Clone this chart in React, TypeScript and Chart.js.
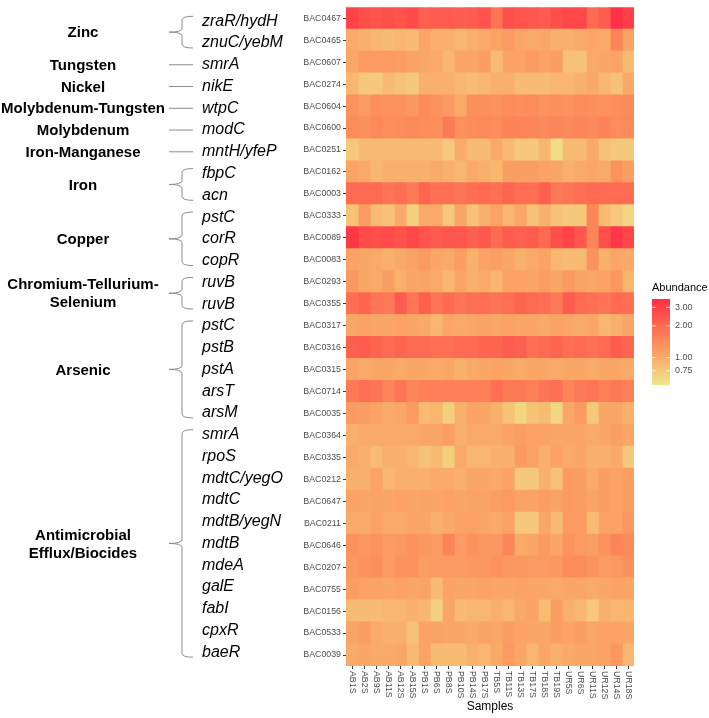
import React, { useEffect, useRef } from "react";
import { Chart, registerables } from "chart.js";
Chart.register(...registerables);

const samples = ["AB1S","AB2S","AB9S","AB11S","AB12S","AB15S","PB1S","PB6S","PB8S","PB10S","PB14S","PB17S","TB5S","TB11S","TB13S","TB17S","TB18S","TB19S","UR5S","UR6S","UR11S","UR12S","UR14S","UR18S"];

const bacIds = ["BAC0467","BAC0465","BAC0607","BAC0274","BAC0604","BAC0600","BAC0251","BAC0162","BAC0003","BAC0333","BAC0089","BAC0083","BAC0293","BAC0355","BAC0317","BAC0316","BAC0315","BAC0714","BAC0035","BAC0364","BAC0335","BAC0212","BAC0647","BAC0211","BAC0646","BAC0207","BAC0755","BAC0156","BAC0533","BAC0039"];

const genes = ["zraR/hydH","znuC/yebM","smrA","nikE","wtpC","modC","mntH/yfeP","fbpC","acn","pstC","corR","copR","ruvB","ruvB","pstC","pstB","pstA","arsT","arsM","smrA","rpoS","mdtC/yegO","mdtC","mdtB/yegN","mdtB","mdeA","galE","fabI","cpxR","baeR"];

const groupLabels = [["Zinc"],["Tungsten"],["Nickel"],["Molybdenum-Tungsten"],["Molybdenum"],["Iron-Manganese"],["Iron"],["Copper"],["Chromium-Tellurium-","Selenium"],["Arsenic"],["Antimicrobial","Efflux/Biocides"]];
const groupFirstRow = [0,2,3,4,5,6,7,9,12,14,19];
const groupLastRow = [1,2,3,4,5,6,8,11,13,18,29];

// abundance[row][sample]
const abundance = [
  [2.9,2.6,2.5,2.6,2.5,2.7,2.2,2.3,2.3,2.2,2.3,2.5,1.8,2.6,2.5,2.4,2.3,2.6,2.8,2.8,2.0,2.3,3.4,3.0],
  [1.0,0.95,0.9,0.85,0.9,0.85,1.05,0.95,0.95,0.9,0.95,1.0,1.1,1.2,1.05,1.0,1.05,0.95,0.95,1.0,1.05,1.0,1.5,1.1],
  [1.05,1.2,1.2,1.2,1.15,1.1,1.05,1.0,0.9,1.05,1.05,1.15,0.85,1.1,1.1,1.2,1.1,1.15,0.8,0.8,1.0,1.05,1.1,0.85],
  [0.9,0.75,0.75,0.85,0.8,0.75,0.95,0.95,0.95,0.9,0.85,0.9,0.95,0.95,0.85,0.85,0.85,0.9,0.9,0.95,1.0,0.9,0.8,1.0],
  [1.3,1.2,1.35,1.3,1.3,1.25,1.4,1.3,1.2,1.0,1.35,1.35,1.3,1.4,1.35,1.4,1.3,1.35,1.3,1.4,1.35,1.3,1.35,1.4],
  [1.4,1.35,1.45,1.35,1.4,1.45,1.4,1.35,1.7,1.35,1.4,1.45,1.4,1.55,1.55,1.5,1.45,1.5,1.45,1.5,1.45,1.55,1.4,1.45],
  [0.75,0.85,0.85,0.85,0.85,0.85,0.85,0.85,0.75,1.0,0.85,0.85,1.0,0.85,0.75,0.75,0.9,0.6,0.85,0.85,1.0,0.8,0.75,0.75],
  [1.1,1.0,0.9,0.95,0.95,0.95,0.95,1.0,0.95,0.9,1.0,0.95,0.9,1.15,1.15,1.15,1.1,1.05,0.95,1.0,1.05,1.0,1.3,1.15],
  [2.0,2.0,2.0,1.8,1.9,1.7,2.1,1.9,1.9,1.8,1.9,2.0,1.9,2.1,1.9,1.9,2.2,1.7,1.8,1.9,2.0,2.0,2.0,2.0],
  [0.8,1.2,0.85,0.8,1.0,0.7,1.0,1.0,0.75,1.05,0.8,0.95,1.1,0.9,1.05,0.8,0.95,0.8,0.75,0.75,1.5,0.85,0.75,0.65],
  [3.2,2.7,2.6,2.7,2.5,2.8,2.5,2.3,2.4,2.4,2.2,2.4,2.0,2.3,2.2,2.3,2.0,2.6,2.9,2.4,1.5,2.6,3.2,2.8],
  [1.1,1.05,1.0,0.95,1.0,1.1,1.2,1.05,1.0,1.15,0.95,1.1,1.15,1.05,0.95,1.0,1.1,0.9,0.85,0.85,1.3,0.95,1.05,1.0],
  [1.25,1.05,1.0,1.15,0.95,1.05,1.1,1.0,0.9,1.05,0.95,1.0,0.9,1.1,1.1,1.05,1.15,1.05,1.2,1.1,1.05,1.1,1.25,0.9],
  [1.9,2.1,1.8,1.7,2.3,1.8,2.2,1.8,2.0,1.8,1.9,1.9,1.8,1.9,2.1,2.0,1.9,1.7,2.3,2.0,1.9,1.8,2.0,1.9],
  [1.05,1.1,1.05,1.05,1.1,1.05,1.0,0.9,1.05,1.0,1.05,1.1,1.05,1.1,1.05,1.05,1.0,1.1,1.05,1.0,1.05,0.9,0.95,1.05],
  [2.2,2.3,2.1,2.0,2.1,2.0,2.0,1.9,1.9,2.0,2.0,2.1,2.1,2.3,2.2,1.9,2.0,2.1,1.9,2.0,1.9,2.0,2.3,2.1],
  [1.1,1.0,1.05,1.05,1.0,1.05,1.05,1.0,1.05,0.95,1.0,1.05,1.1,1.05,1.0,1.05,1.05,1.0,1.05,1.05,1.0,1.05,1.05,1.0],
  [1.7,1.9,1.8,1.5,1.8,1.5,1.6,1.6,1.6,1.6,1.6,1.6,1.9,1.7,1.7,1.6,1.8,1.9,1.5,1.7,1.8,1.6,1.7,1.6],
  [1.2,1.15,1.1,1.0,1.05,1.2,0.85,0.9,0.7,0.95,1.1,1.05,0.95,0.8,0.65,0.8,0.85,0.65,1.05,1.2,0.75,1.05,1.05,0.95],
  [0.95,1.0,1.0,1.0,1.0,1.0,1.05,1.05,1.15,0.95,1.0,1.0,1.0,1.1,1.15,1.1,1.1,1.05,1.05,1.05,1.0,1.05,1.15,1.05],
  [1.0,0.95,0.85,0.95,0.95,0.9,0.8,0.85,0.7,1.0,0.9,0.9,0.95,0.95,1.2,1.1,0.95,1.1,1.0,1.05,0.95,0.95,1.0,0.75],
  [0.95,0.95,1.1,0.9,0.95,0.95,0.95,1.0,1.0,0.95,1.05,1.05,1.0,1.1,0.75,0.75,0.95,0.8,1.2,1.15,1.0,1.15,1.1,1.15],
  [1.1,1.05,1.1,1.05,1.1,1.05,1.1,1.05,1.1,1.05,1.1,1.1,1.15,1.2,1.1,1.1,1.15,1.1,1.2,1.15,1.1,1.15,1.1,1.15],
  [1.0,1.0,1.1,1.0,1.0,1.05,1.05,0.95,1.0,1.1,1.1,1.05,1.0,1.1,0.75,0.75,1.05,0.85,1.2,1.2,0.85,1.1,1.1,1.25],
  [1.3,1.25,1.3,1.2,1.25,1.3,1.25,1.2,1.55,1.2,1.3,1.25,1.25,1.5,1.0,1.05,1.2,1.05,1.3,1.2,1.15,1.3,1.5,1.45],
  [1.25,1.3,1.35,1.2,1.3,1.3,1.15,1.2,1.2,1.2,1.25,1.25,1.3,1.25,1.25,1.2,1.2,1.25,1.4,1.4,1.3,1.2,1.25,1.35],
  [1.15,1.1,1.1,1.05,1.1,1.05,1.1,0.85,1.1,1.05,1.05,1.1,1.05,1.05,1.1,1.05,1.05,1.0,1.05,1.05,1.0,1.05,1.1,1.05],
  [0.85,0.85,0.85,0.9,0.9,0.95,0.9,0.7,1.05,0.85,0.9,0.9,0.95,0.9,1.0,1.1,0.85,1.15,0.95,0.9,0.75,0.95,0.9,0.9],
  [1.1,1.15,1.0,0.95,0.95,0.8,1.1,1.1,1.05,1.05,1.0,1.1,1.05,1.15,1.1,1.05,1.05,1.15,1.1,1.15,1.05,1.1,1.1,1.05],
  [1.0,1.05,1.0,1.0,1.05,0.85,1.1,0.85,0.85,0.85,0.95,0.9,1.0,1.2,1.05,0.9,1.05,0.95,1.0,1.05,1.05,1.1,1.25,0.9],
];

const legendBreaks = [0.75, 1, 2, 3];
const legendBreakLabels = ["0.75", "1.00", "2.00", "3.00"];
const scaleMin = 0.55;
const scaleMax = 3.6;
const gradientPositions = [0, 0.17, 0.32, 0.5, 0.69, 0.9, 1];
const gradientColors = ["#EFE68A", "#F5C878", "#FAAA68", "#FC8C5C", "#FE6A52", "#FF4048", "#FF2B45"];

const FAMILY = '"Liberation Sans", Arial, Helvetica, sans-serif';

function hexToRgb(hex: string) {
  const n = parseInt(hex.slice(1), 16);
  return [(n >> 16) & 255, (n >> 8) & 255, n & 255];
}
const gradientRgb = gradientColors.map(hexToRgb);
function tFor(v: number) {
  const t = (Math.log(v) - Math.log(scaleMin)) / (Math.log(scaleMax) - Math.log(scaleMin));
  return Math.max(0, Math.min(1, t));
}
function colorAtT(t: number) {
  let k = 0;
  while (k < gradientPositions.length - 2 && t > gradientPositions[k + 1]) k++;
  const p0 = gradientPositions[k], p1 = gradientPositions[k + 1];
  const f = Math.max(0, Math.min(1, (t - p0) / (p1 - p0)));
  const c = [0, 1, 2].map((m) => Math.round(gradientRgb[k][m] + (gradientRgb[k + 1][m] - gradientRgb[k][m]) * f));
  return `rgb(${c[0]},${c[1]},${c[2]})`;
}
function colorFor(v: number) {
  return colorAtT(tFor(v));
}

const bgPlugin = {
  id: "bg",
  beforeDraw(chart: any) {
    const ctx = chart.ctx;
    ctx.save();
    ctx.fillStyle = "#FFFFFF";
    ctx.fillRect(0, 0, chart.width, chart.height);
    ctx.restore();
  },
};

const annotPlugin = {
  id: "annot",
  afterDraw(chart: any) {
    const ctx = chart.ctx;
    const area = chart.chartArea;
    const xs = chart.scales.x;
    const ys = chart.scales.y;
    ctx.save();

    // x tick marks and rotated labels
    ctx.strokeStyle = "#333333";
    ctx.lineWidth = 1;
    ctx.fillStyle = "#4D4D4D";
    ctx.font = `8.8px ${FAMILY}`;
    samples.forEach((s, j) => {
      const x = Math.round(xs.getPixelForValue(j + 0.5)) + 0.5;
      ctx.beginPath();
      ctx.moveTo(x, area.bottom);
      ctx.lineTo(x, area.bottom + 3);
      ctx.stroke();
      ctx.save();
      ctx.translate(x, area.bottom + 5);
      ctx.rotate(Math.PI / 2);
      ctx.textAlign = "left";
      ctx.textBaseline = "middle";
      ctx.fillText(s, 0, 0);
      ctx.restore();
    });

    // x axis title
    ctx.fillStyle = "#000000";
    ctx.font = `12px ${FAMILY}`;
    ctx.textAlign = "center";
    ctx.textBaseline = "middle";
    ctx.fillText("Samples", (area.left + area.right) / 2, 707);

    // legend
    const barL = area.right + 18, barW = 18, barT = 299, barB = 385;
    ctx.fillStyle = "#000000";
    ctx.font = `11px ${FAMILY}`;
    ctx.textAlign = "left";
    ctx.textBaseline = "middle";
    ctx.fillText("Abundance", barL, 288);
    for (let y = barT; y < barB; y++) {
      const t = (barB - (y + 0.5)) / (barB - barT);
      ctx.fillStyle = colorAtT(t);
      ctx.fillRect(barL, y, barW, 1);
    }
    ctx.font = `9px ${FAMILY}`;
    legendBreaks.forEach((b, k) => {
      const y = barB - tFor(b) * (barB - barT);
      ctx.strokeStyle = "rgba(255,255,255,0.8)";
      ctx.beginPath();
      ctx.moveTo(barL, y);
      ctx.lineTo(barL + 4, y);
      ctx.moveTo(barL + barW - 4, y);
      ctx.lineTo(barL + barW, y);
      ctx.stroke();
      ctx.fillStyle = "#4D4D4D";
      ctx.fillText(legendBreakLabels[k], barL + barW + 5, y);
    });

    // gene labels
    const geneY = (i: number) => ys.getPixelForTick(i) + 3 - 0.2 * i;
    ctx.fillStyle = "#000000";
    ctx.font = `italic 16px ${FAMILY}`;
    ctx.textAlign = "left";
    ctx.textBaseline = "middle";
    genes.forEach((g, i) => ctx.fillText(g, 202, geneY(i)));

    // group brackets and labels
    ctx.strokeStyle = "#8C8C8C";
    ctx.lineWidth = 1;
    const xTip = 169, xV = 182, xEnd = 193;
    groupLabels.forEach((lines, k) => {
      const a = groupFirstRow[k], b = groupLastRow[k];
      let yMid;
      if (a === b) {
        yMid = geneY(a);
        ctx.beginPath();
        ctx.moveTo(xTip, yMid);
        ctx.lineTo(xEnd, yMid);
        ctx.stroke();
      } else {
        const yT = geneY(a) - 5, yB = geneY(b) + 5;
        yMid = (yT + yB) / 2;
        const r = 4;
        ctx.beginPath();
        ctx.moveTo(xEnd, yT);
        ctx.quadraticCurveTo(xV, yT, xV, yT + r);
        ctx.lineTo(xV, yMid - r);
        ctx.quadraticCurveTo(xV, yMid, xTip, yMid);
        ctx.quadraticCurveTo(xV, yMid, xV, yMid + r);
        ctx.lineTo(xV, yB - r);
        ctx.quadraticCurveTo(xV, yB, xEnd, yB);
        ctx.stroke();
      }
      ctx.fillStyle = "#000000";
      ctx.font = `bold 15px ${FAMILY}`;
      ctx.textAlign = "center";
      const lh = 18;
      lines.forEach((ln, m) => {
        const y = yMid + 1 + (m - (lines.length - 1) / 2) * lh;
        ctx.fillText(ln, 83, y);
      });
    });

    ctx.restore();
  },
};

export default function App() {
  const ref = useRef<HTMLCanvasElement | null>(null);
  useEffect(() => {
    if (!ref.current) return;
    const datasets = samples.map((s, j) => ({
      label: s,
      data: bacIds.map(() => 1),
      backgroundColor: bacIds.map((_, i) => colorFor(abundance[i][j])),
      borderWidth: 0,
      barPercentage: 1,
      categoryPercentage: 1,
      inflateAmount: 0.6,
    }));
    const chart = new Chart(ref.current, {
      type: "bar",
      data: { labels: bacIds, datasets },
      plugins: [bgPlugin, annotPlugin],
      options: {
        indexAxis: "y",
        responsive: false,
        animation: false,
        layout: { padding: { left: 200, right: 75, top: 3, bottom: 52 } },
        plugins: { legend: { display: false }, tooltip: { enabled: false } },
        scales: {
          x: { type: "linear", stacked: true, min: 0, max: samples.length, display: false },
          y: {
            type: "category",
            stacked: true,
            offset: true,
            border: { display: false },
            grid: { display: true, offset: false, drawOnChartArea: false, drawTicks: true, tickLength: 3, color: "#333333", lineWidth: 1 },
            ticks: { autoSkip: false, color: "#4D4D4D", padding: 2, font: { size: 8.8, family: FAMILY } },
            afterFit: (s: any) => { s.width = 146; },
          },
        },
      } as any,
    });
    return () => chart.destroy();
  }, []);
  return (
    <div style={{ position: "absolute", left: 0, top: 0, width: 709, height: 718 }}>
      <canvas ref={ref} width={709} height={718} style={{ display: "block" }} />
    </div>
  );
}
